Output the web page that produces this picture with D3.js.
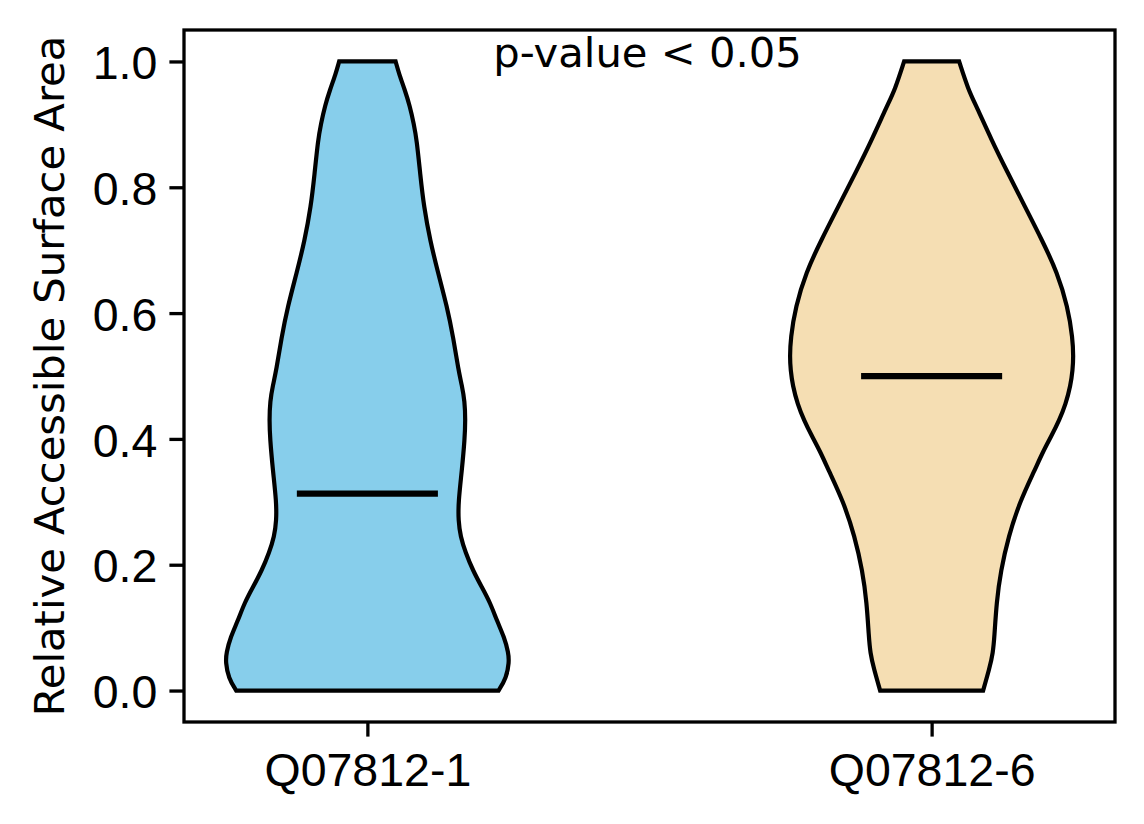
<!DOCTYPE html>
<html>
<head>
<meta charset="utf-8">
<script src="https://cdn.jsdelivr.net/npm/d3@7"></script>
<style>
  body { margin: 0; background: #fff; }
  svg { font-family: "DejaVu Sans", sans-serif; }
</style>
</head>
<body>
<svg width="1144" height="824"></svg>
<script>
// categories and fill colours
const categories = ["Q07812-1", "Q07812-6"];
const fills = ["#87CEEB", "#F5DEB3"];

// density profile (value on y, relative half width)
const levels1 = [0.00, 0.02, 0.045, 0.06, 0.085, 0.11, 0.14, 0.165, 0.19, 0.22, 0.245, 0.27, 0.30, 0.35, 0.40, 0.43, 0.46, 0.485, 0.51, 0.56, 0.61, 0.665, 0.715, 0.77, 0.82, 0.875, 0.90, 0.93, 0.955, 0.98, 1.00];
const density1 = [0.93, 0.985, 1.005, 1.00, 0.97, 0.92, 0.87, 0.81, 0.75, 0.695, 0.66, 0.645, 0.645, 0.67, 0.69, 0.695, 0.69, 0.67, 0.645, 0.61, 0.565, 0.50, 0.445, 0.40, 0.375, 0.35, 0.33, 0.30, 0.265, 0.225, 0.20];

const levels2 = [0.00, 0.035, 0.06, 0.085, 0.14, 0.19, 0.245, 0.30, 0.35, 0.38, 0.405, 0.43, 0.455, 0.485, 0.51, 0.53, 0.56, 0.61, 0.665, 0.715, 0.77, 0.825, 0.875, 0.93, 0.955, 1.00];
const density2 = [0.365, 0.41, 0.435, 0.445, 0.46, 0.49, 0.545, 0.625, 0.73, 0.79, 0.85, 0.905, 0.95, 0.985, 1.0, 1.005, 1.0, 0.965, 0.89, 0.785, 0.66, 0.535, 0.425, 0.315, 0.26, 0.195];

const medians = [0.313, 0.50];
const yTicks = [0.0, 0.2, 0.4, 0.6, 0.8, 1.0];
const note = "p-value < 0.05";
const yLabel = "Relative Accessible Surface Area";

const profiles = [
    levels1.map((v, i) => ({v: v, d: density1[i]})),
    levels2.map((v, i) => ({v: v, d: density2[i]}))
];

const svg = d3.select("svg");
const margin = {top: 30, right: 29, bottom: 102, left: 184};
const width = +svg.attr("width") - margin.left - margin.right;
const height = +svg.attr("height") - margin.top - margin.bottom;
const fontSize = 41.7;
const tickFontSize = 46.5;

const g = svg.append("g").attr("transform", `translate(${margin.left},${margin.top})`);

// positions 1 and 2, like matplotlib's violinplot
const x = d3.scaleLinear().domain([0.675, 2.325]).range([0, width]);
const y = d3.scaleLinear().domain([-0.05, 1.05]).range([height, 0]);
const halfWidth = d3.scaleLinear().domain([0, 1]).range([0, x(1.25) - x(1)]);

profiles.forEach((prof, i) => {
    const pos = i + 1;
    const area = d3.area()
        .curve(d3.curveBasis)
        .y(d => y(d.v))
        .x0(d => x(pos) - halfWidth(d.d))
        .x1(d => x(pos) + halfWidth(d.d));

    g.append("path")
        .datum(prof)
        .attr("d", area)
        .attr("fill", fills[i])
        .attr("stroke", "#000")
        .attr("stroke-width", 4.2)
        .attr("stroke-linejoin", "miter");

    g.append("line")
        .attr("x1", x(pos - 0.125))
        .attr("x2", x(pos + 0.125))
        .attr("y1", y(medians[i]))
        .attr("y2", y(medians[i]))
        .attr("stroke", "#000")
        .attr("stroke-width", 6.25);
});

// axes
const yAxis = g.append("g")
    .call(d3.axisLeft(y).tickValues(yTicks).tickFormat(d3.format(".1f")).tickSize(14.6).tickPadding(12));
const xAxis = g.append("g")
    .attr("transform", `translate(0,${height})`)
    .call(d3.axisBottom(x).tickValues([1, 2]).tickFormat((d, i) => categories[i]).tickSize(14.6).tickPadding(12));

[yAxis, xAxis].forEach(ax => {
    ax.select(".domain").remove();
    ax.selectAll(".tick line").attr("stroke", "#000").attr("stroke-width", 3.3);
    ax.selectAll(".tick text").attr("fill", "#000").style("font-size", tickFontSize + "px");
});
yAxis.selectAll(".tick text").attr("dy", "0.37em");
xAxis.selectAll(".tick text").attr("dy", "0.8em");

// frame
g.append("rect")
    .attr("width", width)
    .attr("height", height)
    .attr("fill", "none")
    .attr("stroke", "#000")
    .attr("stroke-width", 3.3);

g.append("text")
    .attr("x", x(1.5) - 2)
    .attr("y", 37)
    .attr("text-anchor", "middle")
    .style("font-size", fontSize + "px")
    .text(note);

svg.append("text")
    .attr("transform", `translate(64,${margin.top + height / 2}) rotate(-90)`)
    .attr("text-anchor", "middle")
    .style("font-size", fontSize + "px")
    .text(yLabel);
</script>
</body>
</html>
